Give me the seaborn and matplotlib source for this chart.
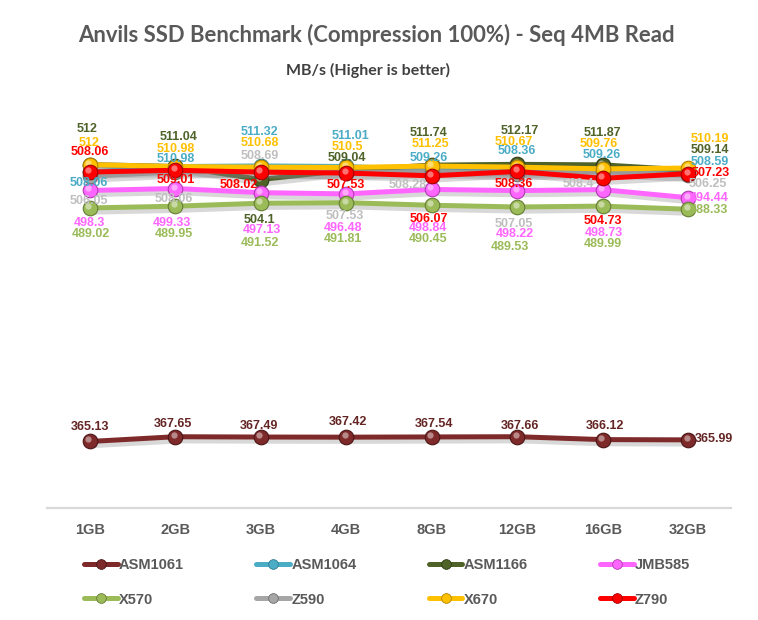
import matplotlib
matplotlib.use("Agg")
import matplotlib.pyplot as plt
import matplotlib.patheffects as pe
from matplotlib.lines import Line2D
import seaborn as sns
import pandas as pd
import numpy as np

# ---------------- data ----------------
sizes = ["1GB", "2GB", "3GB", "4GB", "8GB", "12GB", "16GB", "32GB"]
series_names = ["ASM1061", "ASM1064", "ASM1166", "JMB585", "X570", "Z590", "X670", "Z790"]
asm1061 = [365.13, 367.65, 367.49, 367.42, 367.54, 367.66, 366.12, 365.99]
asm1064 = [508.06, 510.98, 511.32, 511.01, 509.26, 508.36, 509.26, 508.59]
asm1166 = [512.00, 511.04, 504.10, 509.04, 511.74, 512.17, 511.87, 509.14]
jmb585 = [498.30, 499.33, 497.13, 496.48, 498.84, 498.22, 498.73, 494.44]
x570 = [489.02, 489.95, 491.52, 491.81, 490.45, 489.53, 489.99, 488.33]
z590 = [506.05, 508.06, 508.69, 507.53, 508.28, 507.05, 508.40, 506.25]
x670 = [512.00, 510.98, 510.68, 510.50, 511.25, 510.67, 509.76, 510.19]
z790 = [508.06, 509.01, 508.02, 507.53, 506.07, 508.36, 504.73, 507.23]
values = [asm1061, asm1064, asm1166, jmb585, x570, z590, x670, z790]

# ---------------- style ----------------
line_colors = ["#7F2A2A", "#4BACC6", "#4F6228", "#FF66FF", "#9BBB59", "#A6A6A6", "#FFC000", "#FF0000"]
edge_colors = ["#4A1515", "#2E7D92", "#2F3B16", "#B03CB0", "#667D35", "#6E6E6E", "#B08400", "#A00000"]
label_colors = ["#632523", "#4BACC6", "#4F6228", "#FF66FF", "#9BBB59", "#BFBFBF", "#FFC000", "#FF0000"]

# label offsets in pixels (dx right, dy down)
label_dx = [
    [0, -2, -2, 2, 2, 3, 2, 26],
    [-1, 1, -1, 4, -3, 0, -1, 22],
    [-3, 3, -1, 1, -3, 3, 0, 22],
    [0, -3, 1, -3, -4, -2, 1, 21],
    [1, -1, -1, -3, -4, -7, 0, 21],
    [-1, -1, -1, -1, -24, -3, -24, 20],
    [-1, 1, -1, 1, -1, -3, -4, 22],
    [0, 1, -22, 0, -3, -3, 0, 23],
]
label_dy = [
    [-14, -13, -11, -15, -13, -11, -14, -1],
    [11, -8, -34, -30, -12, -20, -15, -9],
    [-36, -29, 40, -12, -32, -33, -32, -20],
    [33, 34, 37, 34, 39, 43, 43, 0],
    [26, 28, 40, 36, 34, 40, 38, 1],
    [25, 27, -15, 43, 13, 50, 13, 9],
    [-22, -18, -24, -20, -22, -25, -25, -29],
    [-20, 10, 13, 12, 43, 13, 43, -1],
]

sns.set_theme(style="white")
plt.rcParams["font.family"] = ["Liberation Sans", "DejaVu Sans"]

W, H = 758, 620
fig = plt.figure(figsize=(W / 100, H / 100), dpi=100)
ax = fig.add_axes([47 / W, (H - 507.7) / H, 684 / W, (507.7 - 130.7) / H])

pos = np.arange(len(sizes))
shadow = [pe.SimpleLineShadow(offset=(2, -3), shadow_color="#7F7F7F", alpha=0.3), pe.Normal()]
hl_shift = matplotlib.transforms.ScaledTranslation(-1.5 / 100, 2 / 100, fig.dpi_scale_trans)

for i, (name, vals) in enumerate(zip(series_names, values)):
    df = pd.DataFrame({"pos": pos, "val": vals})
    sns.lineplot(data=df, x="pos", y="val", ax=ax, color=line_colors[i], linewidth=3.6,
                 zorder=2 + i * 0.1, path_effects=shadow, legend=False)
    sns.scatterplot(data=df, x="pos", y="val", ax=ax, color=line_colors[i], s=110,
                    edgecolor=edge_colors[i], linewidth=0.8, zorder=2 + i * 0.1 + 0.03,
                    legend=False)
    # glossy highlight on the spheres
    ax.plot(pos, vals, linestyle="none", marker="o", markersize=4.5,
            markerfacecolor="white", markeredgewidth=0, alpha=0.45, zorder=2 + i * 0.1 + 0.06,
            transform=ax.transData + hl_shift)
    for j, v in enumerate(vals):
        ax.annotate(f"{v:g}", xy=(pos[j], v),
                    xytext=(label_dx[i][j], -label_dy[i][j]), textcoords="offset pixels",
                    ha="center", va="center", fontsize=9, fontweight="bold",
                    color=label_colors[i], zorder=20, annotation_clip=False)

ax.set_xlim(-0.5, len(sizes) - 0.5)
ax.set_ylim(330, 530)
ax.set_xticks(pos)
ax.set_xticklabels(sizes, fontsize=10.5, fontweight="bold", color="#595959")
ax.tick_params(axis="x", length=0, pad=11)
ax.set_yticks([])
ax.set_xlabel("")
ax.set_ylabel("")
for s in ["top", "left", "right"]:
    ax.spines[s].set_visible(False)
ax.spines["bottom"].set_color("#D9D9D9")
ax.spines["bottom"].set_linewidth(1.6)
ax.set_facecolor("none")

# title + subtitle
fig.text(376 / W, 1 - 35 / H, "Anvils SSD Benchmark (Compression 100%) - Seq 4MB Read",
         ha="center", va="center", fontsize=15.9, fontweight="bold", color="#595959",
         family=["Lato", "DejaVu Sans"])
fig.text(368 / W, 1 - 70 / H, "MB/s (Higher is better)", ha="center", va="center",
         fontsize=11.5, fontweight="bold", color="#404040", family=["Lato", "DejaVu Sans"])

# legend (row-wise order)
handles = []
for i in range(len(series_names)):
    handles.append(Line2D([0], [0], color=line_colors[i], linewidth=3.6, marker="o",
                          markersize=7, markerfacecolor=line_colors[i],
                          markeredgecolor=edge_colors[i], markeredgewidth=0.6))
order = [0, 4, 1, 5, 2, 6, 3, 7]
leg = fig.legend([handles[k] for k in order], [series_names[k] for k in order],
                 ncol=4, loc="upper left", bbox_to_anchor=(71 / W, 1 - 545 / H),
                 frameon=False, handlelength=2.3, handletextpad=0.1, columnspacing=4.95,
                 labelspacing=1.4, prop={"size": 10.5, "weight": "bold"})
for t in leg.get_texts():
    t.set_color("#595959")

fig.savefig("out.png", dpi=100)
